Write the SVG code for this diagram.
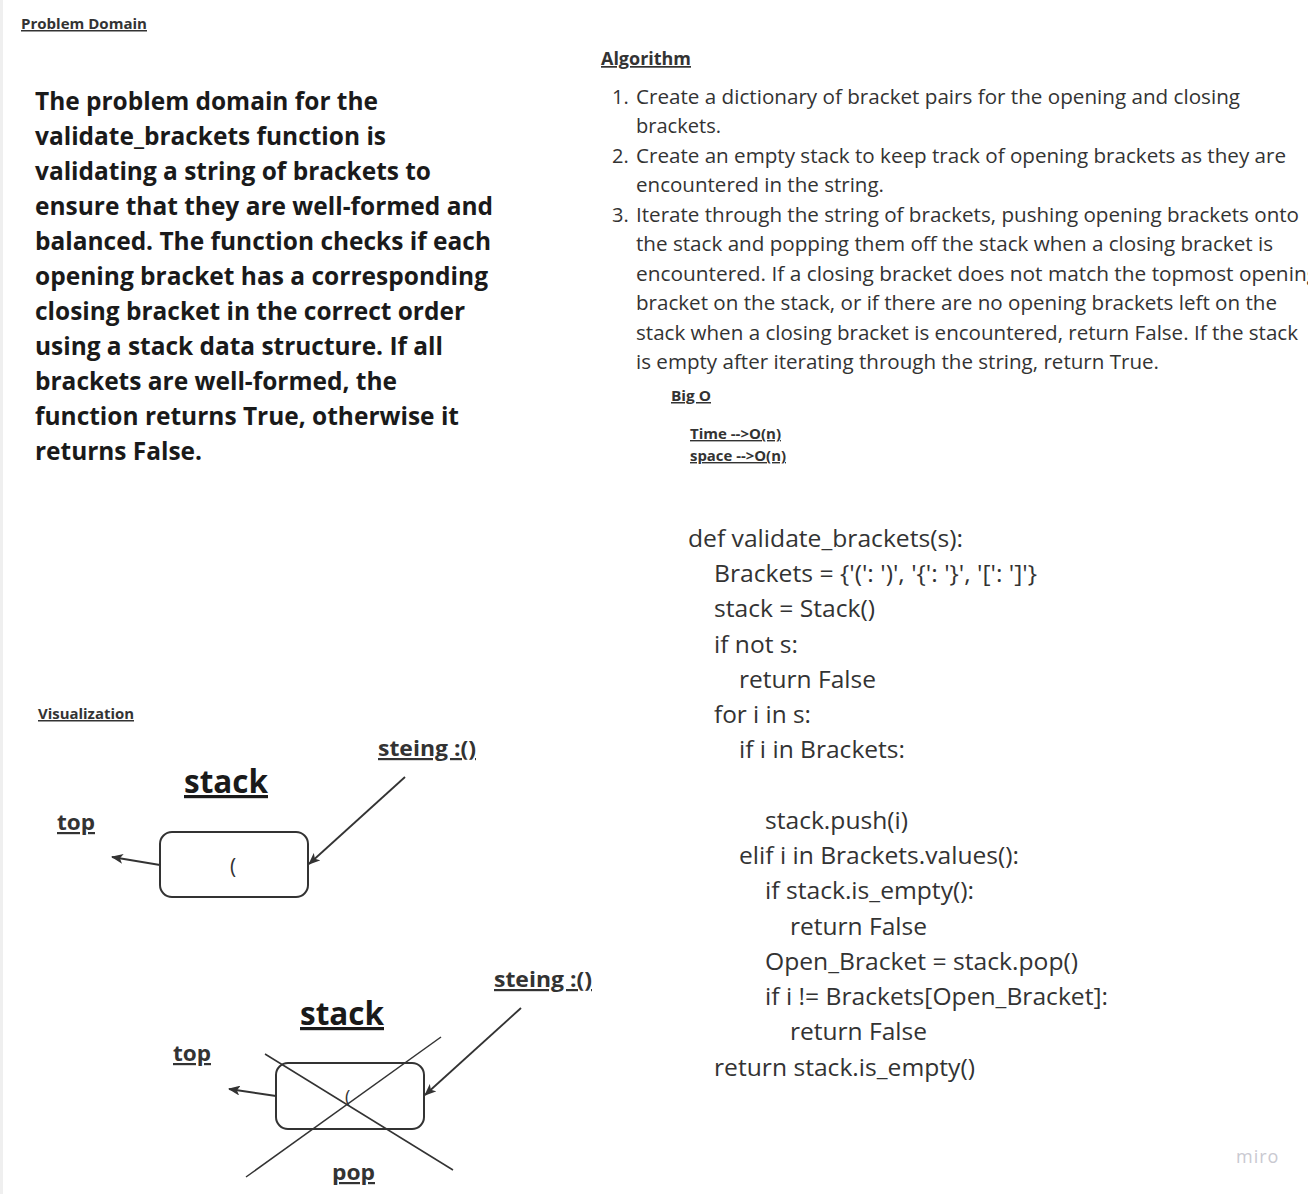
<svg xmlns="http://www.w3.org/2000/svg" width="1308" height="1194" viewBox="0 0 1308 1194">
<defs>
<style>
text{font-family:"Open Sans","Noto Sans","Liberation Sans",sans-serif;fill:#333;}
.h{font-weight:700;font-size:15px;text-decoration:underline;}
.p{font-weight:700;font-size:25px;fill:#1a1a1a;}
.a{font-size:20px;}
.c{font-size:24px;}
.bo{font-weight:700;font-size:14px;text-decoration:underline;}
.lab{font-weight:700;font-size:22px;text-decoration:underline;}
.big{font-weight:700;font-size:32px;text-decoration:underline;fill:#1a1a1a;}
.box{fill:#fff;stroke:#333;stroke-width:2;}
.con{fill:none;stroke:#333;stroke-width:1.8;}
.x{fill:none;stroke:#333;stroke-width:1.5;}
</style>
<marker id="arr" viewBox="0 0 12 10" refX="11" refY="5" markerWidth="12" markerHeight="10" markerUnits="userSpaceOnUse" orient="auto">
<path d="M0,0 L12,5 L0,10 L3,5 z" fill="#333"/>
</marker>
</defs>
<rect width="1308" height="1194" fill="#fff"/>
<rect x="0" y="0" width="3" height="1194" fill="#efefef"/>

<g id="problem-domain">
<text class="h" x="21" y="29" textLength="126" lengthAdjust="spacingAndGlyphs">Problem Domain</text>
<text class="p" x="35" y="110" textLength="343" lengthAdjust="spacingAndGlyphs">The problem domain for the</text>
<text class="p" x="35" y="145" textLength="351" lengthAdjust="spacingAndGlyphs">validate_brackets function is</text>
<text class="p" x="35" y="180" textLength="396" lengthAdjust="spacingAndGlyphs">validating a string of brackets to</text>
<text class="p" x="35" y="215" textLength="458" lengthAdjust="spacingAndGlyphs">ensure that they are well-formed and</text>
<text class="p" x="35" y="250" textLength="456" lengthAdjust="spacingAndGlyphs">balanced. The function checks if each</text>
<text class="p" x="35" y="285" textLength="453" lengthAdjust="spacingAndGlyphs">opening bracket has a corresponding</text>
<text class="p" x="35" y="320" textLength="430" lengthAdjust="spacingAndGlyphs">closing bracket in the correct order</text>
<text class="p" x="35" y="355" textLength="408" lengthAdjust="spacingAndGlyphs">using a stack data structure. If all</text>
<text class="p" x="35" y="390" textLength="362" lengthAdjust="spacingAndGlyphs">brackets are well-formed, the</text>
<text class="p" x="35" y="425" textLength="424" lengthAdjust="spacingAndGlyphs">function returns True, otherwise it</text>
<text class="p" x="35" y="460" textLength="167" lengthAdjust="spacingAndGlyphs">returns False.</text>
</g>

<g id="algorithm">
<text class="h" x="601" y="65" style="font-size:17px" textLength="90" lengthAdjust="spacingAndGlyphs">Algorithm</text>
<text class="a" x="612" y="104">1.</text>
<text class="a" x="636" y="104" textLength="604" lengthAdjust="spacingAndGlyphs">Create a dictionary of bracket pairs for the opening and closing</text>
<text class="a" x="636" y="133" textLength="85" lengthAdjust="spacingAndGlyphs">brackets.</text>
<text class="a" x="612" y="163">2.</text>
<text class="a" x="636" y="163" textLength="650" lengthAdjust="spacingAndGlyphs">Create an empty stack to keep track of opening brackets as they are</text>
<text class="a" x="636" y="192" textLength="248" lengthAdjust="spacingAndGlyphs">encountered in the string.</text>
<text class="a" x="612" y="222">3.</text>
<text class="a" x="636" y="222" textLength="663" lengthAdjust="spacingAndGlyphs">Iterate through the string of brackets, pushing opening brackets onto</text>
<text class="a" x="636" y="251" textLength="637" lengthAdjust="spacingAndGlyphs">the stack and popping them off the stack when a closing bracket is</text>
<text class="a" x="636" y="281" textLength="682" lengthAdjust="spacingAndGlyphs">encountered. If a closing bracket does not match the topmost opening</text>
<text class="a" x="636" y="310" textLength="641" lengthAdjust="spacingAndGlyphs">bracket on the stack, or if there are no opening brackets left on the</text>
<text class="a" x="636" y="340" textLength="662" lengthAdjust="spacingAndGlyphs">stack when a closing bracket is encountered, return False. If the stack</text>
<text class="a" x="636" y="369" textLength="523" lengthAdjust="spacingAndGlyphs">is empty after iterating through the string, return True.</text>
</g>

<g id="big-o">
<text class="h" x="671" y="401" textLength="40" lengthAdjust="spacingAndGlyphs">Big O</text>
<text class="bo" x="690" y="439" textLength="91" lengthAdjust="spacingAndGlyphs">Time --&gt;O(n)</text>
<text class="bo" x="690" y="461" textLength="96" lengthAdjust="spacingAndGlyphs">space --&gt;O(n)</text>
</g>

<g id="code">
<text class="c" x="688" y="547" textLength="275" lengthAdjust="spacingAndGlyphs">def validate_brackets(s):</text>
<text class="c" x="714" y="582" textLength="323" lengthAdjust="spacingAndGlyphs">Brackets = {'(': ')', '{': '}', '[': ']'}</text>
<text class="c" x="714" y="617" textLength="161" lengthAdjust="spacingAndGlyphs">stack = Stack()</text>
<text class="c" x="714" y="653" textLength="84" lengthAdjust="spacingAndGlyphs">if not s:</text>
<text class="c" x="739" y="688" textLength="137" lengthAdjust="spacingAndGlyphs">return False</text>
<text class="c" x="714" y="723" textLength="97" lengthAdjust="spacingAndGlyphs">for i in s:</text>
<text class="c" x="739" y="758" textLength="166" lengthAdjust="spacingAndGlyphs">if i in Brackets:</text>
<text class="c" x="765" y="829" textLength="143" lengthAdjust="spacingAndGlyphs">stack.push(i)</text>
<text class="c" x="739" y="864" textLength="280" lengthAdjust="spacingAndGlyphs">elif i in Brackets.values():</text>
<text class="c" x="765" y="899" textLength="209" lengthAdjust="spacingAndGlyphs">if stack.is_empty():</text>
<text class="c" x="790" y="935" textLength="137" lengthAdjust="spacingAndGlyphs">return False</text>
<text class="c" x="765" y="970" textLength="313" lengthAdjust="spacingAndGlyphs">Open_Bracket = stack.pop()</text>
<text class="c" x="765" y="1005" textLength="343" lengthAdjust="spacingAndGlyphs">if i != Brackets[Open_Bracket]:</text>
<text class="c" x="790" y="1040" textLength="137" lengthAdjust="spacingAndGlyphs">return False</text>
<text class="c" x="714" y="1076" textLength="261" lengthAdjust="spacingAndGlyphs">return stack.is_empty()</text>
</g>

<g id="visualization-title">
<text class="h" x="38" y="719" textLength="96" lengthAdjust="spacingAndGlyphs">Visualization</text>
</g>

<g id="stack1">
<text class="lab" x="378" y="756" textLength="98" lengthAdjust="spacingAndGlyphs">steing :()</text>
<text class="big" x="184" y="793" textLength="84" lengthAdjust="spacingAndGlyphs">stack</text>
<text class="lab" x="57" y="830" textLength="38" lengthAdjust="spacingAndGlyphs">top</text>
<rect class="box" x="160" y="832" width="148" height="65" rx="12"/>
<text x="230" y="874" style="font-size:21px">(</text>
</g>

<g id="stack2">
<text class="lab" x="494" y="987" textLength="98" lengthAdjust="spacingAndGlyphs">steing :()</text>
<text class="big" x="300" y="1025" textLength="84" lengthAdjust="spacingAndGlyphs">stack</text>
<text class="lab" x="173" y="1061" textLength="38" lengthAdjust="spacingAndGlyphs">top</text>
<rect class="box" x="276" y="1063" width="148" height="66" rx="12"/>
<text x="345" y="1103" style="font-size:18px">(</text>
<text class="lab" x="332" y="1180" textLength="43" lengthAdjust="spacingAndGlyphs">pop</text>
<line class="x" x1="265" y1="1054" x2="453" y2="1170"/>
<line class="x" x1="441" y1="1037" x2="246" y2="1177"/>
</g>

<g id="connectors">
<line class="con" x1="160" y1="865" x2="112" y2="857" marker-end="url(#arr)"/>
<line class="con" x1="405" y1="777" x2="309" y2="864" marker-end="url(#arr)"/>
<line class="con" x1="276" y1="1096" x2="229" y2="1089" marker-end="url(#arr)"/>
<line class="con" x1="521" y1="1008" x2="425" y2="1095" marker-end="url(#arr)"/>
</g>

<g id="miro-logo">
<text x="1236" y="1163" style="font-size:18px;fill:#c9c9d1;letter-spacing:1px">miro</text>
</g>
</svg>
